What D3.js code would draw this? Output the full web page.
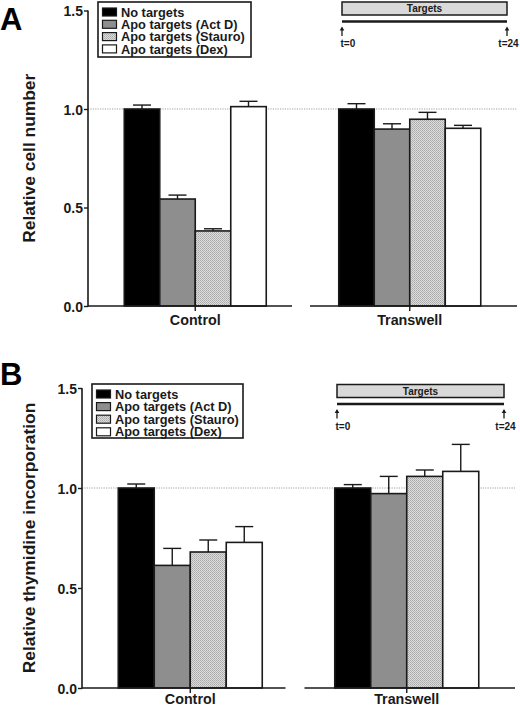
<!DOCTYPE html>
<html>
<head>
<meta charset="utf-8">
<script src="https://cdnjs.cloudflare.com/ajax/libs/d3/7.8.5/d3.min.js"></script>
<style>
  html, body { margin: 0; padding: 0; background: #fff; }
  svg { display: block; font-family: "Liberation Sans", Arial, Helvetica, sans-serif; }
</style>
</head>
<body>
<svg id="chart" width="520" height="707"></svg>
<script>
// ---------------- DATA ----------------
const categories = ["Control", "Transwell"];
const seriesNames = ["No targets", "Apo targets (Act D)", "Apo targets (Stauro)", "Apo targets (Dex)"];
const yTickValues = [0, 0.5, 1.0, 1.5];
const yTickLabels = ["0.0", "0.5", "1.0", "1.5"];

// Panel A: relative cell number  (rows = categories, cols = series)
const cellNumberMeans = [
  [1.000, 0.543, 0.381, 1.012],
  [1.000, 0.898, 0.948, 0.902]
];
const cellNumberErrors = [
  [0.020, 0.020, 0.011, 0.027],
  [0.027, 0.027, 0.035, 0.015]
];

// Panel B: relative thymidine incorporation
const thymidineMeans = [
  [1.000, 0.613, 0.680, 0.728],
  [1.000, 0.972, 1.058, 1.083]
];
const thymidineErrors = [
  [0.020, 0.085, 0.060, 0.079],
  [0.017, 0.086, 0.032, 0.135]
];

const diagramLabels = ["Targets", "t=0", "t=24"];

// ---------------- DRAW ----------------
const svg = d3.select("#chart");
const defs = svg.append("defs");
const pat = defs.append("pattern").attr("id", "stipple")
  .attr("patternUnits", "userSpaceOnUse").attr("width", 2).attr("height", 2);
pat.append("rect").attr("width", 2).attr("height", 2).attr("fill", "#dcdcdc");
pat.append("rect").attr("width", 1).attr("height", 1).attr("fill", "#a8a8a8");
pat.append("rect").attr("x", 1).attr("y", 1).attr("width", 1).attr("height", 1).attr("fill", "#b8b8b8");

const fills = ["#000000", "#8e8e8e", "url(#stipple)", "#ffffff"];
const ink = "#1a1a1a";

function drawPanel(cfg) {
  const g = svg.append("g");
  const x = d3.scaleBand().domain(categories).range([cfg.x0, cfg.x1]).padding(0);
  const y = d3.scaleLinear().domain([0, 1.5]).range([cfg.y0, cfg.y1]);
  const inner = d3.scaleBand().domain(seriesNames).range([-cfg.groupW / 2, cfg.groupW / 2]).padding(0);

  // reference dotted line at 1.0
  g.append("line")
    .attr("x1", cfg.x0).attr("x2", cfg.x1)
    .attr("y1", y(1)).attr("y2", y(1))
    .attr("stroke", "#8a8a8a").attr("stroke-width", 0.8)
    .attr("stroke-dasharray", "1.2,1.2");

  // bars + error bars
  categories.forEach((cat, ci) => {
    const cx = x(cat) + x.bandwidth() / 2;
    seriesNames.forEach((s, si) => {
      const v = cfg.means[ci][si];
      const e = cfg.errors[ci][si];
      const bx = cx + inner(s);
      const bw = inner.bandwidth();
      const mid = bx + bw / 2;
      g.append("line")
        .attr("x1", mid).attr("x2", mid)
        .attr("y1", y(v)).attr("y2", y(v + e))
        .attr("stroke", ink).attr("stroke-width", 1.4);
      g.append("line")
        .attr("x1", mid - 9).attr("x2", mid + 9)
        .attr("y1", y(v + e)).attr("y2", y(v + e))
        .attr("stroke", ink).attr("stroke-width", 1.4);
      g.append("rect")
        .attr("x", bx).attr("y", y(v))
        .attr("width", bw).attr("height", y(0) - y(v))
        .attr("fill", fills[si])
        .attr("stroke", ink).attr("stroke-width", 1.6);
    });
  });

  // y axis
  const yAxis = d3.axisLeft(y).tickValues(yTickValues)
    .tickFormat((d, i) => yTickLabels[i]).tickSize(4).tickSizeOuter(0);
  const ya = g.append("g").attr("transform", `translate(${cfg.x0},0)`).call(yAxis);
  ya.select(".domain").attr("stroke", ink).attr("stroke-width", 1.6)
    .attr("d", `M0,${cfg.y0 + 0.8}V${y(1.5)}`);
  ya.selectAll(".tick line").attr("stroke", ink).attr("stroke-width", 1.4);
  ya.selectAll(".tick text")
    .attr("font-size", 14).attr("font-weight", "bold").attr("fill", ink)
    .attr("x", -5).attr("dy", "0.36em")
    .attr("font-family", "'Liberation Sans', Arial, sans-serif");

  // broken x axis segments
  const segs = [
    [cfg.x0, x(categories[0]) + x.bandwidth() - cfg.gapL],
    [x(categories[1]) + cfg.gapR, cfg.x1]
  ];
  segs.forEach(sg => {
    g.append("line").attr("x1", sg[0]).attr("x2", sg[1])
      .attr("y1", cfg.y0).attr("y2", cfg.y0)
      .attr("stroke", ink).attr("stroke-width", 1.6);
  });
  categories.forEach(cat => {
    const cx = x(cat) + x.bandwidth() / 2;
    g.append("line").attr("x1", cx).attr("x2", cx)
      .attr("y1", cfg.y0).attr("y2", cfg.y0 + 5)
      .attr("stroke", ink).attr("stroke-width", 1.4);
    g.append("text").attr("x", cx).attr("y", cfg.y0 + cfg.catDy)
      .attr("text-anchor", "middle").attr("font-size", 14.3)
      .attr("font-weight", "bold").attr("fill", ink).text(cat);
  });

  // y axis title
  g.append("text")
    .attr("transform", `translate(${cfg.titleX},${(cfg.y0 + y(1.5)) / 2}) rotate(-90)`)
    .attr("text-anchor", "middle").attr("dy", "0.35em")
    .attr("font-size", 17.4).attr("font-weight", "bold").attr("fill", ink)
    .text(cfg.title);

  // panel letter
  g.append("text").attr("x", cfg.letterX).attr("y", cfg.letterY)
    .attr("font-size", 31).attr("font-weight", "bold").attr("fill", "#000")
    .text(cfg.letter);

  // legend
  const L = cfg.legend;
  g.append("rect").attr("x", L.x).attr("y", L.y).attr("width", L.w).attr("height", L.h)
    .attr("fill", "#fff").attr("stroke", ink).attr("stroke-width", 1.6);
  seriesNames.forEach((s, i) => {
    const ry = L.y + L.firstRow + i * L.rowH;
    g.append("rect").attr("x", L.x + 4.5).attr("y", ry - 4)
      .attr("width", 14).attr("height", 8)
      .attr("fill", fills[i]).attr("stroke", ink).attr("stroke-width", 1.2);
    g.append("text").attr("x", L.x + 23).attr("y", ry).attr("dy", "0.36em")
      .attr("font-size", 12.8).attr("font-weight", "bold").attr("fill", ink).text(s);
  });

  // targets diagram
  const D = cfg.diagram;
  g.append("rect").attr("x", D.x1).attr("y", D.y).attr("width", D.x2 - D.x1).attr("height", 13)
    .attr("fill", "#d9d9d9").attr("stroke", ink).attr("stroke-width", 1.5);
  g.append("text").attr("x", (D.x1 + D.x2) / 2).attr("y", D.y + 6.8).attr("dy", "0.35em")
    .attr("text-anchor", "middle").attr("font-size", 10).attr("font-weight", "bold")
    .attr("fill", ink).text(diagramLabels[0]);
  g.append("line").attr("x1", D.x1).attr("x2", D.x2)
    .attr("y1", D.y + 19.5).attr("y2", D.y + 19.5)
    .attr("stroke", ink).attr("stroke-width", 2.6);
  [D.x1, D.x2].forEach((ax, i) => {
    g.append("line").attr("x1", ax).attr("x2", ax)
      .attr("y1", D.y + 26).attr("y2", D.y + 34)
      .attr("stroke", ink).attr("stroke-width", 1.3);
    g.append("path")
      .attr("d", `M${ax - 2.3},${D.y + 28.5}L${ax},${D.y + 24.5}L${ax + 2.3},${D.y + 28.5}Z`)
      .attr("fill", ink);
    g.append("text").attr("x", i === 0 ? ax - 1.5 : ax + 1.5).attr("y", D.y + 45)
      .attr("text-anchor", i === 0 ? "start" : "middle")
      .attr("font-size", 10).attr("font-weight", "bold").attr("fill", ink)
      .text(diagramLabels[i + 1]);
  });
}

drawPanel({
  letter: "A", letterX: 0, letterY: 30,
  title: "Relative cell number", titleX: 29,
  means: cellNumberMeans, errors: cellNumberErrors,
  x0: 88, x1: 517, y0: 306, y1: 10.5, groupW: 142, gapL: 10.5, gapR: 7.5, catDy: 19,
  legend: { x: 98, y: 2, w: 153, h: 55, firstRow: 10, rowH: 12.3 },
  diagram: { x1: 342, x2: 507, y: 2 }
});

drawPanel({
  letter: "B", letterX: 0, letterY: 385,
  title: "Relative thymidine incorporation", titleX: 29,
  means: thymidineMeans, errors: thymidineErrors,
  x0: 82, x1: 515, y0: 688, y1: 388, groupW: 144, gapL: 13, gapR: 6, catDy: 16,
  legend: { x: 92, y: 384, w: 151, h: 54, firstRow: 10, rowH: 12.6 },
  diagram: { x1: 337, x2: 504, y: 384.5 }
});
</script>
</body>
</html>
